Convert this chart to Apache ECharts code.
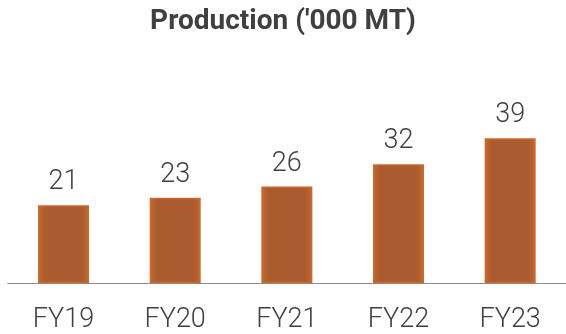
<!DOCTYPE html>
<html>
<head>
<meta charset="utf-8">
<script src="https://cdn.jsdelivr.net/npm/echarts@6/dist/echarts.min.js"></script>
<style>
  html, body { margin: 0; padding: 0; background: #ffffff; }
  #chart { width: 566px; height: 334px; }
</style>
</head>
<body>
<div id="chart"></div>
<script>
// Annual production, thousand metric tonnes
const categories = ['FY19', 'FY20', 'FY21', 'FY22', 'FY23'];
const production = [21, 23, 26, 32, 39];
const chartTitle = "Production ('000 MT)";

const chart = echarts.init(document.getElementById('chart'), null, { renderer: 'canvas' });

// Bars: darker core fading to a brighter orange rim
const barFill = new echarts.graphic.LinearGradient(0, 0, 1, 0, [
  { offset: 0, color: '#C9692C' },
  { offset: 0.14, color: '#AA5B2F' },
  { offset: 0.86, color: '#AA5B2F' },
  { offset: 1, color: '#C9692C' }
]);

chart.setOption({
  backgroundColor: '#ffffff',
  animation: false,
  title: {
    text: chartTitle,
    left: 'center',
    top: 3,
    padding: [5, 0, 5, 8],
    textStyle: {
      fontFamily: 'Roboto',
      fontWeight: 'bold',
      fontSize: 28,
      color: '#404040'
    }
  },
  grid: {
    left: 7.7,
    width: 561.5,
    top: 60,
    bottom: 50.7,
    containLabel: false
  },
  xAxis: {
    type: 'category',
    data: categories,
    axisLine: { lineStyle: { color: '#8c8c8c', width: 1 } },
    axisTick: { show: false },
    axisLabel: {
      margin: 23,
      fontFamily: 'Roboto',
      fontWeight: 300,
      fontSize: 27,
      color: '#404040'
    }
  },
  yAxis: {
    type: 'value',
    min: 0,
    max: 60,
    show: false,
    splitLine: { show: false }
  },
  series: [{
    type: 'bar',
    data: production,
    barWidth: 51,
    itemStyle: {
      color: barFill,
      borderColor: '#C9692C',
      borderWidth: 1.5
    },
    label: {
      show: true,
      position: 'top',
      distance: 9,
      fontFamily: 'Roboto',
      fontWeight: 300,
      fontSize: 27,
      color: '#404040'
    }
  }]
});
</script>
</body>
</html>
